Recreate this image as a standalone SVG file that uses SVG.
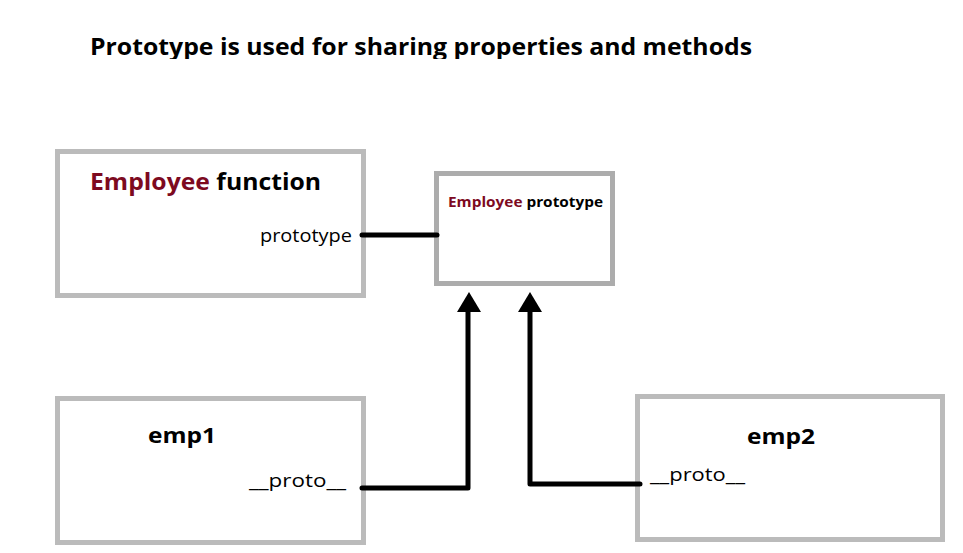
<svg xmlns="http://www.w3.org/2000/svg" width="963" height="553" viewBox="0 0 963 553">
<style>
.box{fill:#ffffff;stroke:#bbbbbb;stroke-width:5}
.box2{fill:#ffffff;stroke:#acacac;stroke-width:5}
.t{font-family:"Open Sans","Liberation Sans",sans-serif;fill:#000}
.b{font-weight:bold}
.red{fill:#7d0a1f}
.line{fill:none;stroke:#000;stroke-width:5;stroke-linecap:round;stroke-linejoin:round}
.head{fill:#000}
</style>
<defs>
<clipPath id="titleclip"><rect x="0" y="0" width="963" height="59"/></clipPath>
</defs>
<rect width="963" height="553" fill="#ffffff"/>
<g id="title" clip-path="url(#titleclip)">
<text class="t b" x="90" y="55" font-size="24" textLength="662" lengthAdjust="spacingAndGlyphs">Prototype is used for sharing properties and methods</text>
</g>
<g id="employee-function">
<rect class="box" x="57.5" y="151.5" width="306" height="144"/>
<text class="t b" x="90" y="190" font-size="24" textLength="231" lengthAdjust="spacingAndGlyphs"><tspan class="red">Employee</tspan> function</text>
<text class="t" x="260" y="242" font-size="19" textLength="92" lengthAdjust="spacingAndGlyphs">prototype</text>
</g>
<g id="employee-prototype">
<rect class="box2" x="436.5" y="173.5" width="176" height="110"/>
<text class="t b" x="448" y="207" font-size="13.5" textLength="155" lengthAdjust="spacingAndGlyphs"><tspan class="red">Employee</tspan> prototype</text>
</g>
<g id="emp1">
<rect class="box" x="57.5" y="398.5" width="306" height="144"/>
<text class="t b" x="148" y="443" font-size="22" textLength="68" lengthAdjust="spacingAndGlyphs">emp1</text>
<text class="t" x="249" y="487" font-size="19" textLength="97" lengthAdjust="spacingAndGlyphs">__proto__</text>
</g>
<g id="emp2">
<rect class="box" x="637.5" y="396.5" width="305" height="143"/>
<text class="t b" x="747" y="444" font-size="22" textLength="68" lengthAdjust="spacingAndGlyphs">emp2</text>
<text class="t" x="650" y="481" font-size="19" textLength="95" lengthAdjust="spacingAndGlyphs">__proto__</text>
</g>
<g id="connectors">
<path class="line" d="M362 235 H437"/>
<path class="line" d="M362 488 H468 V312"/>
<polygon class="head" points="469,292 457,312 481,312"/>
<path class="line" d="M640 484 H530 V312"/>
<polygon class="head" points="530,292 518,312 542,312"/>
</g>
</svg>
